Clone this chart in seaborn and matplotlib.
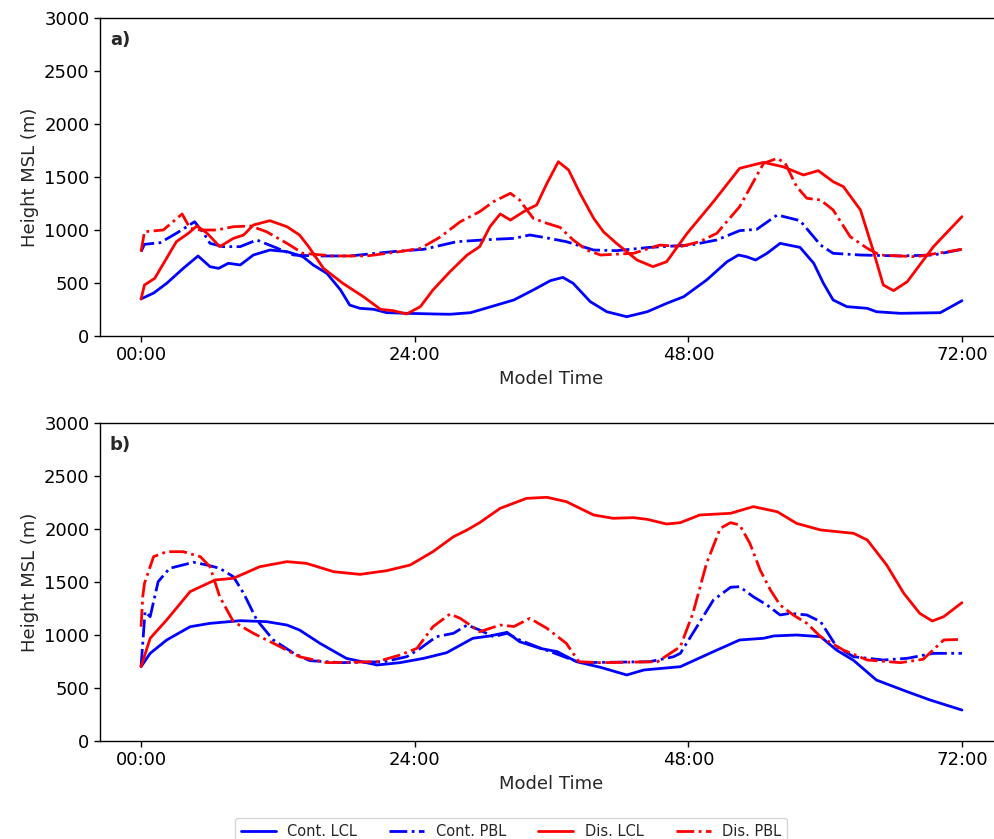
import numpy as np
import pandas as pd
import matplotlib
matplotlib.use("Agg")
import matplotlib.pyplot as plt
import seaborn as sns

# ---------------- data (hours, metres) ----------------
# Panel a)
a_cont_lcl_t = [0,1.1,2.25,3.7,5.0,6.05,6.8,7.66,8.7,9.85,11.3,12.8,14.2,15.1,16.3,17.5,18.3,19.2,20.4,21.55,23.3,25.6,27.1,28.9,30.9,32.7,34.4,35.9,37.0,37.9,39.4,40.85,42.6,44.4,46.1,47.6,49.6,51.4,52.4,53.1,53.9,54.9,56.05,57.8,59.0,59.85,60.7,61.9,63.7,64.5,66.6,70.1,72]
a_cont_lcl_v = [350,405,497,638,755,654,638,686,670,764,811,796,748,670,591,434,292,261,252,220,214,208,205,220,283,340,434,522,553,497,324,229,182,229,308,371,528,701,764,748,717,780,874,836,686,497,340,277,261,229,214,220,333]

a_cont_pbl_t = [0,0.3,1.67,3.1,4.7,5.5,6.05,7.2,8.7,10.15,11.6,13.4,15.4,18.3,22.1,24.8,27.7,30.9,32.7,34.1,35.3,37.3,39.7,41.7,44.6,48.2,50.5,52.5,54.0,55.8,57.8,59.6,60.7,63.1,66.6,69.5,72]
a_cont_pbl_v = [796,865,880,969,1078,969,874,843,843,906,843,764,755,755,796,818,890,912,921,953,931,890,811,805,836,858,906,994,1006,1142,1088,858,780,764,755,764,818]

a_dis_lcl_t = [0,0.3,1.2,3.1,4.15,4.9,5.8,6.9,8.1,9.0,9.85,11.3,12.8,13.9,14.7,16.0,17.7,19.5,21.0,22.1,23.3,24.5,25.6,27.1,28.6,29.7,30.6,31.5,32.4,33.8,34.7,35.6,36.6,37.5,38.5,39.7,40.55,41.7,43.5,44.9,46.1,47.9,50.2,52.5,54.6,56.3,58.1,59.4,60.7,61.6,63.1,64.2,65.1,66.0,67.2,69.5,72]
a_dis_lcl_v = [349,481,544,890,969,1038,969,843,921,953,1047,1088,1031,953,843,638,497,371,252,239,208,277,434,607,764,843,1031,1151,1094,1189,1236,1440,1644,1566,1346,1110,984,874,717,654,701,969,1267,1582,1638,1597,1519,1560,1456,1409,1189,811,481,428,512,843,1126]

a_dis_pbl_t = [0,0.3,1.95,2.8,3.6,4.3,5.2,6.6,8.1,9.6,11.0,12.8,14.2,16.9,19.8,22.7,24.5,26.2,28.0,29.7,30.9,32.4,33.2,34.4,35.6,36.75,37.9,39.1,40.3,43.2,45.5,47.3,49.0,50.5,52.5,54.6,55.8,56.5,57.5,58.4,59.6,60.7,62.2,63.7,64.8,68.0,72]
a_dis_pbl_v = [796,984,1000,1078,1151,1016,1000,1000,1031,1038,984,874,780,755,755,796,827,931,1078,1173,1267,1346,1283,1110,1063,1025,906,811,764,780,858,843,890,969,1220,1629,1676,1629,1409,1299,1283,1189,937,827,764,748,818]

# Panel b)
b_cont_lcl_t = [0,0.8,2.25,4.3,6.05,8.7,11.0,12.8,13.9,15.7,18.0,20.7,22.7,24.8,26.8,29.1,30.6,32.1,33.2,35.0,36.5,38.2,40.3,42.6,44.1,47.3,50.2,52.5,54.6,55.5,57.5,59.6,61.0,62.5,64.5,67.2,69.2,72]
b_cont_lcl_v = [701,827,953,1078,1110,1135,1126,1094,1047,921,780,717,739,780,833,969,991,1025,937,874,843,748,695,623,670,701,843,953,969,991,1000,984,858,760,575,465,387,292]

b_cont_pbl_t = [0,0.35,0.8,1.5,2.5,4.6,5.8,6.9,8.1,9.0,10.15,11.6,13.4,14.8,17.5,21.3,23.3,24.5,25.9,27.4,28.6,29.7,30.9,32.1,33.2,34.7,35.9,38.5,44.6,46.7,47.3,48.75,50.2,51.7,52.5,53.7,54.9,56.05,56.9,58.4,59.6,61.0,62.5,65.1,67.2,69.5,72]
b_cont_pbl_v = [701,1220,1173,1503,1629,1686,1660,1629,1550,1393,1142,953,827,758,739,748,795,874,984,1016,1094,1047,984,1016,953,890,843,739,748,795,827,1078,1330,1450,1456,1361,1283,1189,1204,1189,1126,890,795,764,780,827,827]

b_dis_lcl_t = [0,0.8,2.25,4.3,6.5,8.1,10.4,12.8,14.5,16.9,19.2,21.55,23.6,25.6,27.4,28.6,29.7,31.5,33.8,35.6,37.3,39.7,41.4,43.2,44.4,46.1,47.3,49.0,51.7,53.7,55.8,57.5,59.6,62.5,63.7,65.4,66.9,68.3,69.4,70.4,72]
b_dis_lcl_v = [701,969,1142,1409,1519,1535,1644,1692,1676,1597,1572,1607,1660,1786,1927,1991,2060,2195,2289,2299,2258,2132,2101,2107,2091,2047,2060,2132,2148,2211,2163,2053,1991,1959,1896,1660,1393,1204,1132,1173,1305]

b_dis_pbl_t = [0,0.15,0.3,1.1,2.25,3.7,5.2,6.05,6.9,8.1,9.85,11.9,13.9,16.3,20.7,22.7,24.2,25.6,27.1,28.0,29.7,31.5,32.7,34.1,35.6,37.3,38.4,40.3,45.3,47.3,48.4,49.6,50.8,51.7,52.5,53.4,54.3,55.2,56.05,57.2,58.4,59.6,61.6,63.7,66.6,68.6,70.4,72]
b_dis_pbl_v = [1078,1361,1487,1739,1786,1786,1739,1644,1361,1126,1016,906,795,739,748,811,874,1078,1198,1157,1031,1094,1080,1157,1063,921,748,739,748,890,1204,1676,2006,2060,2038,1865,1613,1425,1283,1189,1110,984,858,764,739,771,953,959]

series_labels = ["Cont. LCL", "Cont. PBL", "Dis. LCL", "Dis. PBL"]
x_ticks = [0, 24, 48, 72]
x_tick_labels = ["00:00", "24:00", "48:00", "72:00"]
y_ticks = [0, 500, 1000, 1500, 2000, 2500, 3000]
panel_labels = ["a)", "b)"]

# ---------------- plotting ----------------
sns.set_theme(style="ticks")
plt.rcParams['font.family'] = ['DejaVu Sans']

W, H = 995, 839
fig = plt.figure(figsize=(W / 100, H / 100), dpi=100)

left = 100 / W
width = (1003 - 100) / W
ax_a = fig.add_axes([left, 1 - 336 / H, width, 318 / H])
ax_b = fig.add_axes([left, 1 - 741 / H, width, 318 / H])

styles = [("blue", "-"), ("blue", "-."), ("red", "-"), ("red", "-.")]

panel_data = [
    [(a_cont_lcl_t, a_cont_lcl_v), (a_cont_pbl_t, a_cont_pbl_v),
     (a_dis_lcl_t, a_dis_lcl_v), (a_dis_pbl_t, a_dis_pbl_v)],
    [(b_cont_lcl_t, b_cont_lcl_v), (b_cont_pbl_t, b_cont_pbl_v),
     (b_dis_lcl_t, b_dis_lcl_v), (b_dis_pbl_t, b_dis_pbl_v)],
]

for ax, data, plabel in zip([ax_a, ax_b], panel_data, panel_labels):
    for (t, v), (c, ls), lab in zip(data, styles, series_labels):
        df = pd.DataFrame({"t": t, "v": v})
        sns.lineplot(data=df, x="t", y="v", ax=ax, color=c, linestyle=ls,
                     linewidth=2.0, label=lab, legend=False, sort=True)
    ax.set_xlim(-3.6, 75.6)
    ax.set_ylim(0, 3000)
    ax.set_xticks(x_ticks)
    ax.set_xticklabels(x_tick_labels)
    ax.set_yticks(y_ticks)
    ax.tick_params(labelsize=13, length=4, width=1, colors="black")
    ax.set_xlabel("Model Time", fontsize=13)
    ax.set_ylabel("Height MSL (m)", fontsize=13)
    for s in ax.spines.values():
        s.set_color("black")
        s.set_linewidth(1.0)
    ax.spines["right"].set_visible(False)
    ax.text(0.011, 0.93, plabel, transform=ax.transAxes, fontsize=13,
            fontweight="bold", ha="left", va="center")

handles, labels = ax_a.get_legend_handles_labels()
fig.legend(handles, labels, loc="upper center", ncol=4,
           bbox_to_anchor=(511 / W, 1 - 818 / H), fontsize=10.5,
           handlelength=2.4, columnspacing=2.2, frameon=True,
           edgecolor="#cccccc", fancybox=True, borderaxespad=0)

fig.savefig("out.png", dpi=100)
